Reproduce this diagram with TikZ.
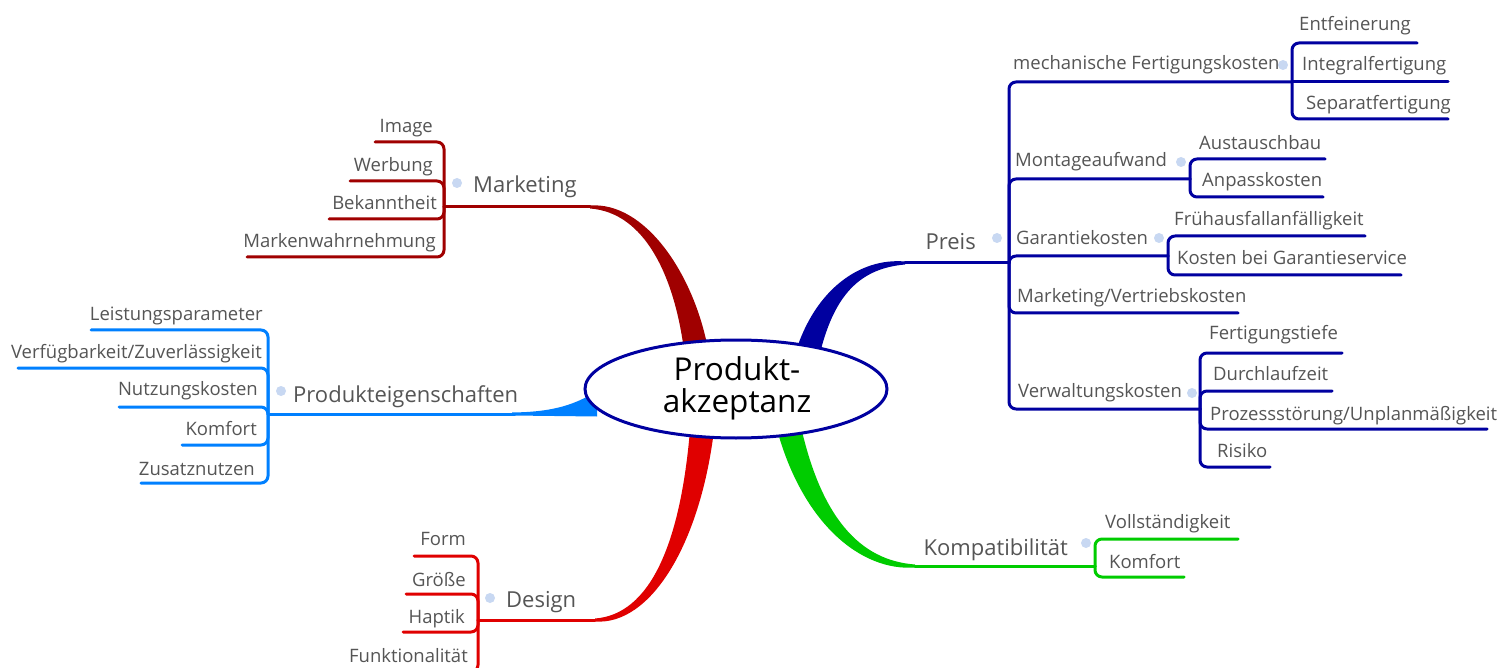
\documentclass[tikz,border=0pt]{standalone}
\usepackage{fontspec}
\setmainfont{Open Sans}
\usetikzlibrary{shapes.geometric}
\definecolor{mktc}{RGB}{160,0,0}
\definecolor{prodc}{RGB}{0,128,255}
\definecolor{desc}{RGB}{224,0,0}
\definecolor{kompc}{RGB}{0,204,0}
\definecolor{preisc}{RGB}{0,0,160}
\definecolor{txtc}{RGB}{85,85,85}
\definecolor{knobc}{RGB}{200,216,242}
\begin{document}
\begin{tikzpicture}[x=1pt,y=-1pt,
  sublbl/.style={font=\fontsize{18.5}{21}\selectfont, text=txtc, inner sep=0pt},
  mainlbl/.style={font=\fontsize{22}{25}\selectfont, text=txtc, inner sep=0pt},
  rootlbl/.style={font=\fontsize{31.5}{34}\selectfont, text=black, inner sep=0pt},
  link/.style={line width=3pt, line cap=round, line join=round, rounded corners=7pt},
  knob/.style={circle, fill=knobc, minimum size=10pt, inner sep=0pt},
]
\useasboundingbox (0,0) rectangle (1510,668);
\fill[white] (0,0) rectangle (1510,668);
\clip (0,0) rectangle (1510,668);

% ---------- coordinates ----------
\coordinate (mkt-root) at (590,207);
\coordinate (mkt-hub) at (444,207);
\coordinate (mkt-c1) at (375,142);
\coordinate (mkt-c2) at (350,181);
\coordinate (mkt-c3) at (329,219);
\coordinate (mkt-c4) at (247,257);

\coordinate (prod-root) at (515,414);
\coordinate (prod-hub) at (268,414);
\coordinate (prod-c1) at (91,330);
\coordinate (prod-c2) at (18,368);
\coordinate (prod-c3) at (119,407);
\coordinate (prod-c4) at (182,445);
\coordinate (prod-c5) at (141,483);

\coordinate (des-root) at (595,620);
\coordinate (des-hub) at (478,620);
\coordinate (des-c1) at (414,556);
\coordinate (des-c2) at (406,594);
\coordinate (des-c3) at (403,632);
\coordinate (des-c4) at (330,672);

\coordinate (komp-root) at (915,566);
\coordinate (komp-hub) at (1095,566);
\coordinate (komp-c1) at (1238,539);
\coordinate (komp-c2) at (1184,577);

\coordinate (preis-root) at (905,263);
\coordinate (preis-hub) at (1009,263);
\coordinate (mech-hub) at (1292,82);
\coordinate (mont-hub) at (1190,179);
\coordinate (gar-hub) at (1168,256);
\coordinate (mv-end) at (1238,313);
\coordinate (verw-hub) at (1200,409);
\coordinate (mech-c1) at (1417,43);
\coordinate (mech-c2) at (1448,82);
\coordinate (mech-c3) at (1448,119);
\coordinate (mont-c1) at (1325,159);
\coordinate (mont-c2) at (1323,197);
\coordinate (gar-c1) at (1365,236);
\coordinate (gar-c2) at (1401,275);
\coordinate (verw-c1) at (1342,353);
\coordinate (verw-c2) at (1332,391);
\coordinate (verw-c3) at (1487,429);
\coordinate (verw-c4) at (1270,467);

% ---------- thick tapered branches ----------
\fill[mktc] (590,205.5) .. controls (645,201.5) and (693.4,273.5) .. (707.8,348.1)
  -- (684.2,351.9) .. controls (674.6,276.5) and (645,212.5) .. (590,208.5) -- cycle;
\fill[preisc] (905,264.5) .. controls (860,268.5) and (833.2,294.4) .. (818.6,359.1)
  -- (795.4,352.9) .. controls (814.8,289.6) and (860,257.5) .. (905,261.5) -- cycle;
\fill[desc] (595,618.5) .. controls (650,614.5) and (680.5,544) .. (690.1,428.8)
  -- (713.9,431.2) .. controls (699.5,546) and (650,625.5) .. (595,621.5) -- cycle;
\fill[kompc] (915,567.5) .. controls (860,571.5) and (802.8,522.3) .. (777.4,430.9)
  -- (800.6,425.1) .. controls (821.2,517.7) and (860,560.5) .. (915,564.5) -- cycle;
\fill[prodc] (512,412.5) .. controls (555,412) and (576,404) .. (597,391)
  -- (597,416.5) -- (512,415.5) -- cycle;

% ---------- Marketing ----------
\draw[link,mktc] (mkt-root) -- (mkt-hub);
\foreach \c in {1,...,4} \draw[link,mktc] (mkt-hub) |- (mkt-c\c);
% ---------- Produkteigenschaften ----------
\draw[link,prodc] (prod-root) -- (prod-hub);
\foreach \c in {1,...,5} \draw[link,prodc] (prod-hub) |- (prod-c\c);
% ---------- Design ----------
\draw[link,desc] (des-root) -- (des-hub);
\foreach \c in {1,...,4} \draw[link,desc] (des-hub) |- (des-c\c);
% ---------- Kompatibilitaet ----------
\draw[link,kompc] (komp-root) -- (komp-hub);
\foreach \c in {1,2} \draw[link,kompc] (komp-hub) |- (komp-c\c);
% ---------- Preis ----------
\draw[link,preisc] (preis-root) -- (preis-hub);
\draw[link,preisc] (preis-hub) |- (mech-hub);
\draw[link,preisc] (preis-hub) |- (mont-hub);
\draw[link,preisc] (preis-hub) |- (gar-hub);
\draw[link,preisc] (preis-hub) |- (mv-end);
\draw[link,preisc] (preis-hub) |- (verw-hub);
\draw[link,preisc] (mech-hub) |- (mech-c1);
\draw[link,preisc] (mech-hub) -- (mech-c2);
\draw[link,preisc] (mech-hub) |- (mech-c3);
\foreach \c in {1,2} \draw[link,preisc] (mont-hub) |- (mont-c\c);
\foreach \c in {1,2} \draw[link,preisc] (gar-hub) |- (gar-c\c);
\foreach \c in {1,...,4} \draw[link,preisc] (verw-hub) |- (verw-c\c);

% ---------- central topic ----------
\node[ellipse, draw=preisc, line width=3pt, fill=white, minimum width=302pt, minimum height=98pt, inner sep=0pt] (root) at (736,389) {};
\node[rootlbl, anchor=base] (root-l1) at (737,380) {Produkt-};
\node[rootlbl, anchor=base] (root-l2) at (737,412) {akzeptanz};

% ---------- labels ----------
\node[mainlbl, anchor=base west] (mkt) at (473,193) {Marketing};
\node[sublbl, anchor=base east] (mkt-t1) at (433,133) {Image};
\node[sublbl, anchor=base east] (mkt-t2) at (433,172) {Werbung};
\node[sublbl, anchor=base east] (mkt-t3) at (437,210) {Bekanntheit};
\node[sublbl, anchor=base east] (mkt-t4) at (436,248) {Markenwahrnehmung};

\node[mainlbl, anchor=base west] (prod) at (293,402) {Produkteigenschaften};
\node[sublbl, anchor=base east] (prod-t1) at (263,321) {Leistungsparameter};
\node[sublbl, anchor=base east] (prod-t2) at (262,359) {Verfügbarkeit/Zuverlässigkeit};
\node[sublbl, anchor=base east] (prod-t3) at (258,395) {Nutzungskosten};
\node[sublbl, anchor=base east] (prod-t4) at (257,435) {Komfort};
\node[sublbl, anchor=base east] (prod-t5) at (255,475) {Zusatznutzen};

\node[mainlbl, anchor=base west] (des) at (506,607) {Design};
\node[sublbl, anchor=base east] (des-t1) at (466,545) {Form};
\node[sublbl, anchor=base east] (des-t2) at (466,586) {Größe};
\node[sublbl, anchor=base east] (des-t3) at (465,623) {Haptik};
\node[sublbl, anchor=base east] (des-t4) at (468,662) {Funktionalität};

\node[mainlbl, anchor=base east] (komp) at (1068,555) {Kompatibilität};
\node[sublbl, anchor=base west] (komp-t1) at (1105,528) {Vollständigkeit};
\node[sublbl, anchor=base west] (komp-t2) at (1109,568) {Komfort};

\node[mainlbl, anchor=base east] (preis) at (976,250) {Preis};
\node[sublbl, anchor=base west] (mech) at (1013,70) {mechanische Fertigungskosten};
\node[sublbl, anchor=base west] (mont) at (1015,167) {Montageaufwand};
\node[sublbl, anchor=base west] (gar) at (1016,245) {Garantiekosten};
\node[sublbl, anchor=base west] (mv) at (1017,303) {Marketing/Vertriebskosten};
\node[sublbl, anchor=base west] (verw) at (1018,397) {Verwaltungskosten};
\node[sublbl, anchor=base west] (mech-t1) at (1299,31) {Entfeinerung};
\node[sublbl, anchor=base west] (mech-t2) at (1302,71) {Integralfertigung};
\node[sublbl, anchor=base west] (mech-t3) at (1306,110) {Separatfertigung};
\node[sublbl, anchor=base west] (mont-t1) at (1199,150) {Austauschbau};
\node[sublbl, anchor=base west] (mont-t2) at (1202,187) {Anpasskosten};
\node[sublbl, anchor=base west] (gar-t1) at (1174,226) {Frühausfallanfälligkeit};
\node[sublbl, anchor=base west] (gar-t2) at (1177,265) {Kosten bei Garantieservice};
\node[sublbl, anchor=base west] (verw-t1) at (1209,340) {Fertigungstiefe};
\node[sublbl, anchor=base west] (verw-t2) at (1213,380) {Durchlaufzeit};
\node[sublbl, anchor=base west] (verw-t3) at (1210,420) {Prozessstörung/Unplanmäßigkeit};
\node[sublbl, anchor=base west] (verw-t4) at (1217,457) {Risiko};

% ---------- collapse knobs ----------
\node[knob] (mkt-k) at (457,183) {};
\node[knob] (prod-k) at (281,391) {};
\node[knob] (des-k) at (490,598) {};
\node[knob] (komp-k) at (1086,543) {};
\node[knob] (preis-k) at (997,238) {};
\node[knob] (mech-k) at (1283,65) {};
\node[knob] (mont-k) at (1181,162) {};
\node[knob] (gar-k) at (1159,238) {};
\node[knob] (verw-k) at (1192,393) {};
\end{tikzpicture}
\end{document}
